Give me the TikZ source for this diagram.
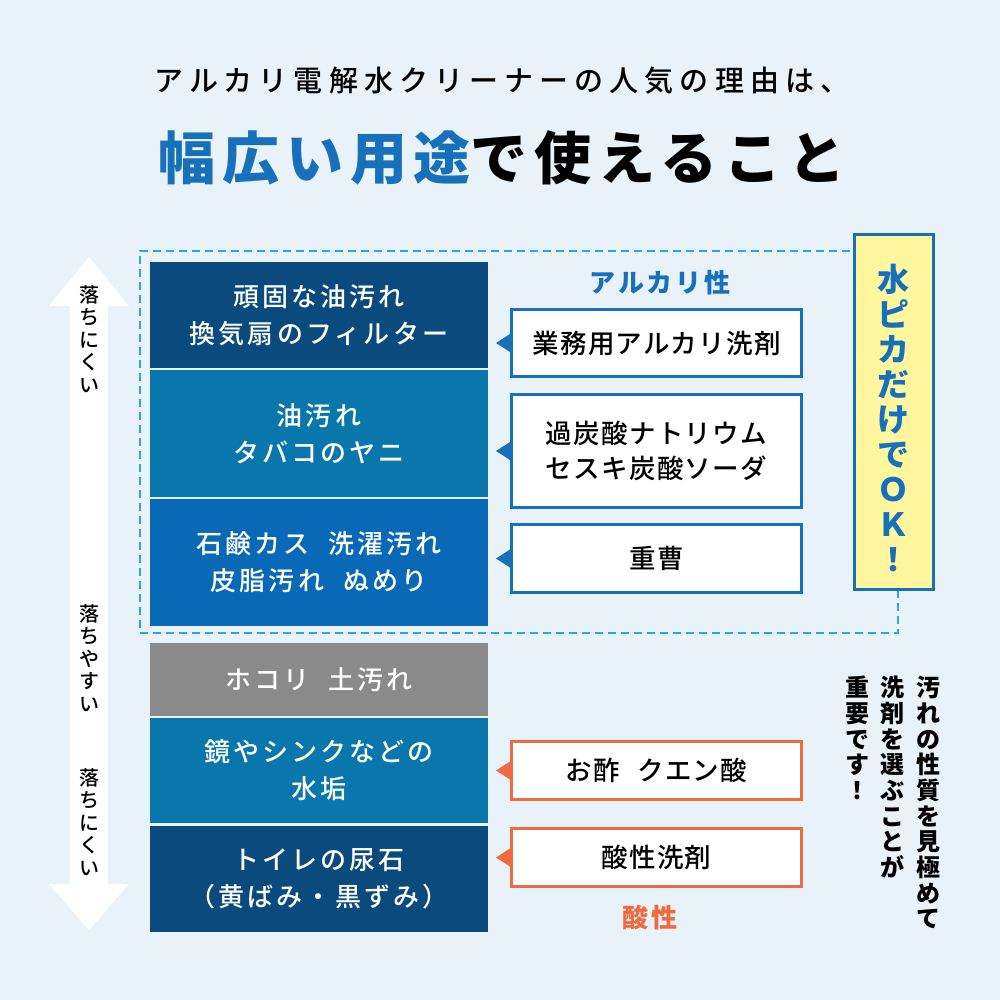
\documentclass[tikz,border=0pt]{standalone}
\usepackage{fontspec}
\setmainfont{Noto Sans CJK JP}[LetterSpace=12]
\IfFontExistsTF{Noto Sans CJK JP Medium}
  {\newfontfamily\midfont{Noto Sans CJK JP Medium}[LetterSpace=12]
   \newfontfamily\widefont{Noto Sans CJK JP Medium}[LetterSpace=21]
   \newfontfamily\tightfont{Noto Sans CJK JP Medium}[LetterSpace=5]}
  {\newfontfamily\midfont{Noto Sans CJK JP}[LetterSpace=12]
   \newfontfamily\widefont{Noto Sans CJK JP}[LetterSpace=21]
   \newfontfamily\tightfont{Noto Sans CJK JP}[LetterSpace=5]}

\definecolor{bgc}{HTML}{E9F1F9}
\definecolor{navy}{HTML}{0A4A7C}
\definecolor{teal}{HTML}{0A77AC}
\definecolor{midblue}{HTML}{0A69B7}
\definecolor{dust}{HTML}{8A8A8A}
\definecolor{keyblue}{HTML}{1670BA}
\definecolor{dashblue}{HTML}{2CA6E0}
\definecolor{lemon}{HTML}{FFF69E}
\definecolor{acid}{HTML}{EE6A40}

\begin{document}
\begin{tikzpicture}[x=1pt,y=-1pt,
  box/.style={rectangle,minimum width=338pt,inner sep=0pt,text=white,align=center,
    font=\midfont\fontsize{26}{37}\selectfont},
  call/.style={rectangle,draw=#1,line width=3pt,fill=white,minimum width=290pt,inner sep=0pt,
    align=center,font=\tightfont\fontsize{26.5}{35}\selectfont},
  tate/.style={align=center,inner sep=0pt}]
\fill[bgc] (0,0) rectangle (1000,1000);
\useasboundingbox (0,0) rectangle (1000,1000);

% title
\node (t1) at (502,81) {\widefont\fontsize{29}{30}\selectfont アルカリ電解水クリーナーの人気の理由は、};
\node (t2) at (502,158) {\fontsize{57}{60}\selectfont\bfseries\textcolor{keyblue}{幅広い用途}で使えること};

% dashed frame and yellow box
\draw[dashblue,line width=2pt,dash pattern=on 8pt off 5pt] (898,590) -- (898,633) -- (140,633) -- (140,251) -- (852,251);
\node[draw=keyblue,fill=lemon,line width=3pt,minimum width=79pt,minimum height=354pt] (ok) at (893.5,412) {};
\node[tate,text=keyblue,font=\fontsize{32}{35}\selectfont\bfseries] (okt) at (893,418) {水\\ピ\\カ\\だ\\け\\で\\Ｏ\\Ｋ\\！};

% arrow
\fill[white] (89,257) -- (129,306) -- (108,306) -- (108,884) -- (129,884) -- (89,930)
  -- (49,884) -- (70,884) -- (70,306) -- (49,306) -- cycle;
\node[tate,font=\midfont\fontsize{20}{22.5}\selectfont] (hard1) at (89,339) {落\\ち\\に\\く\\い};
\node[tate,font=\midfont\fontsize{20}{22.5}\selectfont] (easy) at (89,658) {落\\ち\\や\\す\\い};
\node[tate,font=\midfont\fontsize{20}{22.5}\selectfont] (hard2) at (89,822) {落\\ち\\に\\く\\い};

% dirt boxes
\node[box,fill=navy,minimum height=106pt] (b1) at (319,315) {頑固な油汚れ\\換気扇のフィルター};
\node[box,fill=teal,minimum height=127pt] (b2) at (319,433.5) {油汚れ\\タバコのヤニ};
\node[box,fill=midblue,minimum height=127pt] (b3) at (319,562.5) {石鹸カス\hspace{10pt} 洗濯汚れ\\皮脂汚れ\hspace{10pt} ぬめり};
\node[box,fill=dust,minimum height=73pt] (b4) at (319,679.5) {ホコリ\hspace{10pt} 土汚れ};
\node[box,fill=teal,minimum height=105pt] (b5) at (319,770.5) {鏡やシンクなどの\\水垢};
\node[box,fill=navy,minimum height=106pt] (b6) at (319,879) {トイレの尿石\\（黄ばみ・黒ずみ）};

% cleaners
\node[text=keyblue,font=\fontsize{26}{28}\selectfont\bfseries] (alk) at (660,283) {アルカリ性};
\node[call=keyblue,minimum height=67pt] (c1) at (656.5,343) {業務用アルカリ洗剤};
\node[call=keyblue,minimum height=113pt] (c2) at (656.5,451) {過炭酸ナトリウム\\セスキ炭酸ソーダ};
\node[call=keyblue,minimum height=68pt] (c3) at (656.5,558.5) {重曹};
\node[call=acid,minimum height=58pt] (c4) at (656.5,770.5) {お酢\hspace{10pt} クエン酸};
\node[call=acid,minimum height=58pt] (c5) at (656.5,857.5) {酸性洗剤};
\node[text=acid,font=\fontsize{26}{28}\selectfont\bfseries] (acd) at (650,918) {酸性};

\fill[keyblue] (c1.west) ++(0,-9) -- ++(-14,9) -- ++(14,9) -- cycle;
\fill[keyblue] (c2.west) ++(0,-9) -- ++(-14,9) -- ++(14,9) -- cycle;
\fill[keyblue] (c3.west) ++(0,-9) -- ++(-14,9) -- ++(14,9) -- cycle;
\fill[acid] (c4.west) ++(0,-9) -- ++(-14,9) -- ++(14,9) -- cycle;
\fill[acid] (c5.west) ++(0,-9) -- ++(-14,9) -- ++(14,9) -- cycle;

% note
\node[tate,anchor=north,font=\fontsize{24}{25.7}\selectfont\bfseries] (n1) at (928,676) {汚\\れ\\の\\性\\質\\を\\見\\極\\め\\て};
\node[tate,anchor=north,font=\fontsize{24}{25.7}\selectfont\bfseries] (n2) at (892,676) {洗\\剤\\を\\選\\ぶ\\こ\\と\\が};
\node[tate,anchor=north,font=\fontsize{24}{25.7}\selectfont\bfseries] (n3) at (857,676) {重\\要\\で\\す\\！};
\end{tikzpicture}
\end{document}
